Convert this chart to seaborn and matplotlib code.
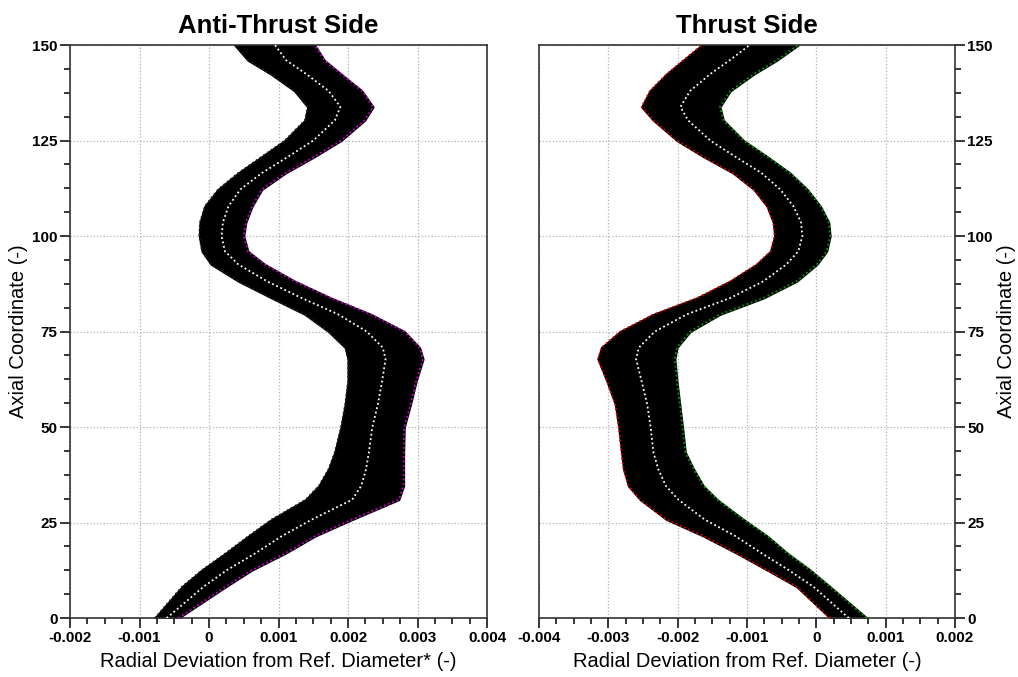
import numpy as np
import matplotlib
matplotlib.use("Agg")
import matplotlib.pyplot as plt
import seaborn as sns
import pandas as pd
from matplotlib.ticker import MultipleLocator, FuncFormatter

# axial stations (shared by both sides)
axial = [0, 8.2, 12.6, 17, 21.5, 25.8, 31, 34.6, 39, 43.4, 50, 56, 62, 67.8, 70.8,
         75, 79.5, 83.8, 88.2, 92.6, 96, 100, 103.6, 107.8, 112.2, 116.5, 120.8,
         125, 130.3, 133.8, 138, 142.4, 146, 150]

# anti-thrust side: band edges and a curve inside the band
at_left = [-0.00078, -0.00039, -0.0001, 0.00024, 0.00057, 0.0009, 0.00139, 0.00158,
           0.00172, 0.00181, 0.0019, 0.00196, 0.002, 0.002, 0.00196, 0.00172, 0.00138,
           0.0009, 0.00042, 0.00003, -0.0001, -0.00014, -0.00013, -0.00006, 0.00013,
           0.00042, 0.00076, 0.00109, 0.00138, 0.00142, 0.00123, 0.00089, 0.00056, 0.00037]
at_right = [-0.00044, 0.00024, 0.00062, 0.0011, 0.00153, 0.00206, 0.00273, 0.0028,
            0.0028, 0.0028, 0.00281, 0.0029, 0.00298, 0.00308, 0.00303, 0.00281, 0.00233,
            0.00175, 0.00123, 0.0008, 0.00056, 0.0005, 0.00053, 0.00062, 0.00076, 0.0011,
            0.00152, 0.0019, 0.00224, 0.00236, 0.0022, 0.0019, 0.00166, 0.00152]
at_mid = [-0.00061, -0.00008, 0.00026, 0.00067, 0.00105, 0.00148, 0.00206, 0.00219,
          0.00226, 0.0023, 0.00235, 0.00243, 0.00249, 0.00254, 0.0025, 0.00227, 0.00186,
          0.00133, 0.00083, 0.00042, 0.00023, 0.00018, 0.0002, 0.00028, 0.00045, 0.00076,
          0.00114, 0.0015, 0.00181, 0.00189, 0.00172, 0.0014, 0.00111, 0.00095]

# thrust side
th_left = [0.0002, -0.00028, -0.00071, -0.00115, -0.00163, -0.00216, -0.00254, -0.00271,
           -0.00278, -0.00281, -0.00285, -0.0029, -0.00302, -0.00315, -0.0031, -0.00283,
           -0.00235, -0.00172, -0.00124, -0.00086, -0.00066, -0.0006, -0.00062, -0.00071,
           -0.0009, -0.0012, -0.00163, -0.00201, -0.00235, -0.00252, -0.0024, -0.00216,
           -0.00192, -0.00165]
th_right = [0.00073, 0.0002, -0.00009, -0.00042, -0.00071, -0.00105, -0.00143, -0.00163,
            -0.00177, -0.00189, -0.00193, -0.00197, -0.00201, -0.00204, -0.00201, -0.00182,
            -0.00139, -0.00076, -0.00028, 0.00001, 0.00015, 0.0002, 0.00018, 0.00006,
            -0.00013, -0.00038, -0.00071, -0.00105, -0.00134, -0.00139, -0.00124, -0.0009,
            -0.00057, -0.00026]
th_mid = [0.00047, -0.00004, -0.0004, -0.00079, -0.00117, -0.00161, -0.00199, -0.00217,
          -0.00228, -0.00235, -0.00239, -0.00244, -0.00252, -0.0026, -0.00256, -0.00233,
          -0.00187, -0.00124, -0.00076, -0.00043, -0.00026, -0.0002, -0.00022, -0.00033,
          -0.00052, -0.00079, -0.00117, -0.00153, -0.00185, -0.00196, -0.00182, -0.00153,
          -0.00125, -0.00096]

sns.set_style("white")
plt.rcParams["font.family"] = ["Liberation Sans", "DejaVu Sans"]
plt.rcParams["text.color"] = "black"
plt.rcParams["axes.labelcolor"] = "black"
plt.rcParams["xtick.color"] = "black"
plt.rcParams["ytick.color"] = "black"

fig = plt.figure(figsize=(10.18, 6.77), dpi=100)
ax1 = fig.add_axes([0.0688, 0.087, 0.4096, 0.8465])
ax2 = fig.add_axes([0.5295, 0.087, 0.4085, 0.8465])


def band(ax, left, right, mid, edge_colors, title, xlabel, xlim):
    ax.fill_betweenx(axial, left, right, color="black", lw=1.5, edgecolor="black", zorder=2)
    df = pd.DataFrame({
        "dev": left + right + mid,
        "axial": axial * 3,
        "curve": ["left"] * len(axial) + ["right"] * len(axial) + ["mid"] * len(axial),
    })
    sns.lineplot(data=df, x="dev", y="axial", hue="curve", palette=edge_colors,
                 sort=False, orient="y", estimator=None, ax=ax, legend=False,
                 lw=1.3, linestyle=(0, (1, 1.5)), zorder=3)
    ax.set_xlim(*xlim)
    ax.set_ylim(0, 150)
    ax.xaxis.set_major_locator(MultipleLocator(0.001))
    ax.xaxis.set_minor_locator(MultipleLocator(0.00025))
    ax.yaxis.set_major_locator(MultipleLocator(25))
    ax.yaxis.set_minor_locator(MultipleLocator(6.25))
    ax.xaxis.set_major_formatter(FuncFormatter(lambda v, p: "0" if abs(v) < 1e-9 else f"{v:.3f}"))
    ax.grid(True, which="major", color="#b0b0b0", linestyle=":", lw=0.9)
    ax.set_axisbelow(True)
    for s in ax.spines.values():
        s.set_color("#333333")
        s.set_linewidth(1.2)
    ax.set_title(title, fontsize=18.5, fontweight="bold", pad=9)
    ax.set_xlabel(xlabel, fontsize=14.5, labelpad=5)
    ax.set_ylabel("Axial Coordinate (-)", fontsize=14.5, labelpad=3)
    ax.tick_params(which="both", direction="out", labelsize=11, width=1.1, pad=2)
    ax.tick_params(which="major", length=7)
    ax.tick_params(which="minor", length=4)
    for lab in ax.get_xticklabels() + ax.get_yticklabels():
        lab.set_fontweight("bold")


band(ax1, at_left, at_right, at_mid,
     {"left": "#202020", "right": "#d000d0", "mid": "white"},
     "Anti-Thrust Side", "Radial Deviation from Ref. Diameter* (-)", (-0.002, 0.004))
ax1.tick_params(which="both", left=True, bottom=True, right=False, top=False)

band(ax2, th_left, th_right, th_mid,
     {"left": "#e00000", "right": "#00a000", "mid": "white"},
     "Thrust Side", "Radial Deviation from Ref. Diameter (-)", (-0.004, 0.002))
ax2.yaxis.tick_right()
ax2.yaxis.set_label_position("right")
ax2.tick_params(which="both", right=True, left=False, bottom=True, top=False)
for lab in ax2.get_yticklabels():
    lab.set_fontweight("bold")

fig.savefig("out.png", dpi=100)
